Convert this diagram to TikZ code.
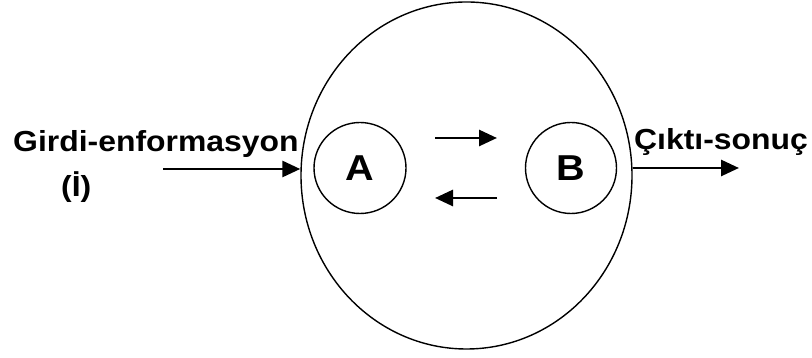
\documentclass[tikz,border=0pt]{standalone}
\usepackage{fontspec}
\setmainfont{Liberation Sans}
\usetikzlibrary{shapes.geometric,arrows.meta}
\begin{document}
\begin{tikzpicture}[x=1pt,y=1pt,
  shapeline/.style={draw=black,line width=1.4pt},
  flow/.style={line width=2.8pt,-{Triangle[length=18pt,width=16pt]}},
  lbl/.style={inner sep=0pt,font=\fontsize{29}{31}\selectfont\bfseries},
  letter/.style={inner sep=0pt,font=\fontsize{36}{38}\selectfont\bfseries}]
\useasboundingbox (0,0) rectangle (812,358);
\node[shapeline,ellipse,minimum width=331pt,minimum height=347pt,inner sep=0pt] (E) at (466.5,182.5) {};
\node[shapeline,ellipse,minimum width=92pt,minimum height=91pt,inner sep=0pt] (A) at (360,190) {};
\node[shapeline,ellipse,minimum width=91pt,minimum height=91pt,inner sep=0pt] (B) at (571,190) {};
\node[letter,anchor=base] (Atxt) at (360,177) {\scalebox{1.1}[1]{A}};
\node[letter,anchor=base] (Btxt) at (571,177) {\scalebox{1.1}[1]{B}};
\node[lbl,anchor=base west] (in) at (13,206.3) {\scalebox{1.1}[1]{Girdi-enformasyon}};
\node[lbl,anchor=base west] (inI) at (61,161) {\scalebox{1.1}[1]{(İ)}};
\node[lbl,anchor=base west] (out) at (634,208) {\scalebox{1.1}[1]{Çıktı-sonuç}};
\coordinate (inS) at (163,189);
\coordinate (outE) at (739,190);
\coordinate (t1) at (435,220);
\coordinate (t2) at (497,220);
\coordinate (b1) at (497,160);
\coordinate (b2) at (435,160);
\draw[flow] (inS) -- (inS -| E.west);
\draw[flow] (outE -| E.east) -- (outE);
\draw[flow] (t1) -- (t2);
\draw[flow] (b1) -- (b2);
\end{tikzpicture}
\end{document}
